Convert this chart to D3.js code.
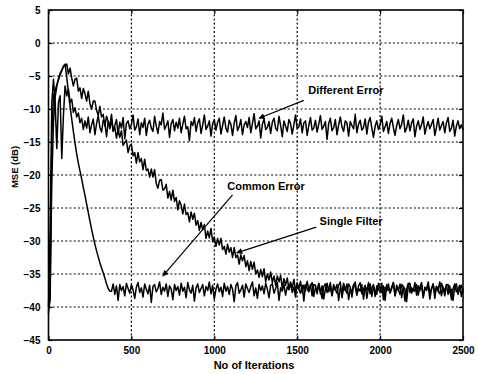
<!DOCTYPE html>
<html><head><meta charset="utf-8">
<script src="https://cdn.jsdelivr.net/npm/d3@7"></script>
<style>
html,body{margin:0;padding:0;background:#fff;}
svg{display:block;font-family:"Liberation Sans",Arial,sans-serif;}
</style></head>
<body><svg id="c" width="478" height="374"></svg>
<script>
// Sampling step of the curves (iterations)
const step = 10;
const xTicks = [0, 500, 1000, 1500, 2000, 2500];
const yTicks = [5, 0, -5, -10, -15, -20, -25, -30, -35, -40, -45];
const xLabel = "No of Iterations";
const yLabel = "MSE (dB)";

// "Different Error" MSE (dB), every 10 iterations from 0 to 2500
const differentError = [
-40,-28,-9,-5.5,-9,-16,-9,-8,-17.5,-11,-6.5,-8,-7,-9,-8.5,-10.5,-9.8,-11.2,-10.6,-12.1,-11.4,
-13.1,-11.8,-12.9,-11.2,-13.6,-12.4,-11.5,-13.9,-12.2,-11.0,
-12.8,-13.5,-11.7,-12.1,-14.2,-11.9,-12.6,-10.8,-13.3,-12.5,
-11.6,-13.8,-12.0,-12.9,-11.3,-14.5,-12.2,-11.8,-13.0,-12.4,
-10.9,-13.2,-12.7,-11.5,-13.9,-12.1,-12.8,-11.4,-14.0,-12.3,
-11.7,-12.9,-13.4,-11.1,-12.6,-13.7,-11.9,-12.4,-10.6,-13.1,
-12.5,-11.8,-14.3,-12.2,-11.6,-13.3,-12.0,-12.9,-11.4,-13.6,
-12.3,-11.1,-13.0,-12.7,-14.8,-11.9,-12.5,-11.3,-13.4,-12.1,
-11.5,-13.7,-12.4,-10.9,-13.1,-12.6,-11.8,-14.1,-12.2,-11.6,
-13.2,-12.0,-11.4,-13.8,-12.5,-11.2,-12.9,-13.5,-11.7,-12.3,
-14.0,-12.1,-11.0,-13.3,-12.7,-11.6,-13.9,-12.4,-11.9,-12.8,
-11.3,-13.6,-12.2,-10.7,-13.0,-12.6,-11.8,-14.4,-12.3,-11.5,
-13.1,-12.8,-11.9,-13.7,-12.0,-11.4,-12.9,-13.3,-11.1,-12.5,
-14.2,-11.8,-12.6,-13.4,-11.6,-12.2,-13.8,-12.4,-10.9,-13.0,
-12.7,-11.5,-13.6,-12.1,-11.8,-14.0,-12.5,-11.3,-13.2,-12.9,
-11.7,-13.5,-12.3,-11.0,-13.1,-12.6,-11.9,-14.6,-12.2,-11.4,
-13.3,-12.8,-11.6,-13.9,-12.4,-11.2,-12.7,-13.4,-11.8,-12.1,
-14.1,-11.9,-12.5,-13.0,-10.8,-13.6,-12.3,-11.7,-13.2,-12.8,
-11.5,-13.8,-12.0,-11.3,-12.9,-14.3,-12.6,-11.8,-13.1,-12.4,
-11.1,-13.4,-12.7,-11.9,-13.7,-12.2,-11.4,-12.8,-14.0,-12.5,
-11.6,-13.0,-12.3,-10.9,-13.5,-12.9,-11.7,-13.3,-12.1,-11.5,
-14.2,-12.6,-11.8,-13.1,-12.4,-11.2,-13.8,-12.7,-11.9,-13.0,
-12.3,-11.6,-14.0,-12.8,-11.4,-13.2,-12.5,-11.9,-13.6,-12.1,
-11.3,-13.4,-12.9,-11.7,-14.1,-12.6,-11.8,-13.0,-12.4,-13.2
];

// "Common Error" MSE (dB)
const commonError = [
-40.5,-39,-14,-8,-7.2,-6.3,-5.6,-4.8,-4.2,-3.5,-3.2,-5.2,-7.4,-9.6,-11.5,-13.4,-15.2,-16.8,-18.2,-19.4,
-20.6,-21.9,-23.1,-24.4,-25.7,-27.0,-28.2,-29.4,-30.5,-31.5,-32.4,-33.3,-34.1,-34.8,-35.6,-36.5,-37.2,-37.6,
-37.6,-36.5,-38.1,-36.8,-39.0,-36.6,-37.5,-36.9,-38.3,-36.4,
-37.2,-37.9,-36.6,-37.4,-38.7,-37.0,-36.3,-37.8,-37.1,-38.5,
-36.5,-37.3,-38.0,-36.7,-39.3,-36.9,-36.6,-37.7,-37.2,-36.2,
-38.1,-37.0,-37.6,-36.5,-38.4,-36.8,-37.3,-38.9,-36.6,-37.5,
-36.9,-38.2,-36.4,-37.6,-37.0,-38.6,-36.3,-37.4,-37.9,-36.7,
-39.1,-37.1,-36.5,-37.8,-37.2,-36.6,-38.3,-36.9,-37.5,-36.2,
-38.0,-36.7,-38.8,-37.3,-36.5,-37.7,-37.0,-38.4,-36.4,-37.6,
-36.9,-38.1,-36.6,-37.3,-39.2,-36.8,-36.3,-37.9,-37.4,-36.7,
-38.5,-36.5,-37.2,-37.8,-36.9,-36.2,-38.3,-37.1,-38.7,-36.6,
-37.5,-36.8,-38.0,-36.4,-37.3,-38.6,-36.7,-36.5,-37.9,-37.2,
-36.3,-39.0,-37.1,-37.6,-36.6,-38.2,-36.9,-37.4,-36.4,-37.8,
-37.0,-38.5,-36.5,-37.3,-37.9,-36.7,-39.1,-36.6,-37.2,-37.7,
-36.9,-36.3,-38.4,-37.1,-37.6,-36.5,-38.0,-36.8,-38.8,-37.3,
-36.4,-37.7,-37.0,-38.3,-36.6,-37.4,-37.9,-36.7,-36.2,-38.6,
-37.1,-37.5,-36.5,-38.9,-37.2,-37.8,-36.6,-37.0,-38.2,-36.8,
-36.3,-38.0,-37.3,-36.7,-38.7,-37.1,-36.5,-38.4,-36.9,-37.6,
-38.1,-36.4,-37.2,-37.8,-36.8,-39.0,-36.6,-37.4,-37.7,-37.0,
-36.3,-38.3,-37.1,-37.5,-36.5,-38.6,-36.9,-37.3,-39.2,-36.7,
-36.4,-37.9,-37.2,-37.6,-36.6,-38.2,-37.0,-36.3,-38.5,-37.1,
-37.5,-36.7,-38.8,-37.3,-36.5,-38.0,-36.9,-37.4,-36.2,-38.3,
-37.0,-37.6,-36.6,-38.1,-36.8,-38.9,-37.2,-36.5,-37.7,-37.3,
-36.7,-38.4,-37.1
];

// "Single Filter" MSE (dB)
const singleFilter = [
-41,-37,-21,-12,-8.2,-6.6,-5.4,-4.6,-4.1,-3.6,-3.4,
-3.2,-4.7,-3.8,-5.3,-6.5,-5.5,-5.3,-7.3,-6.8,-8.4,
-6.9,-7.7,-8.8,-7.3,-9.2,-10.0,-8.8,-8.8,-10.2,-11.0,
-9.6,-11.2,-10.8,-12.6,-11.1,-11.9,-13.0,-11.6,-13.4,-12.8,
-14.4,-13.1,-14.3,-13.3,-15.5,-15.1,-14.7,-16.6,-15.6,-15.3,
-17.1,-16.6,-18.2,-16.6,-18.0,-17.5,-19.2,-17.6,-19.3,-19.1,
-20.3,-19.1,-20.3,-19.2,-21.3,-22.0,-20.8,-20.7,-22.3,-22.1,
-21.4,-23.5,-22.5,-23.8,-22.3,-24.0,-23.4,-25.3,-23.9,-24.6,
-25.9,-24.4,-26.0,-25.7,-27.1,-25.6,-26.7,-25.8,-27.6,-26.9,
-28.4,-27.2,-28.3,-27.5,-29.6,-28.5,-29.5,-28.1,-30.1,-29.4,
-30.8,-29.6,-30.6,-29.6,-31.3,-30.8,-32.0,-30.5,-31.7,-31.0,
-32.5,-31.0,-32.5,-32.1,-33.5,-32.1,-33.0,-32.2,-33.9,-33.0,
-34.5,-33.1,-34.3,-33.2,-35.0,-34.4,-35.5,-34.3,-35.4,-34.2,
-36.2,-35.0,-35.9,-34.7,-36.3,-35.3,-36.7,-35.3,-36.2,-35.2,
-37.2,-35.7,-36.7,-35.6,-37.2,-36.2,-37.1,-35.8,-37.6,-36.3,
-37.3,-36.1,-37.8,-36.7,-37.6,-36.1,-37.4,-36.6,-38.3,-36.6,
-36.7,-38.0,-36.4,-37.5,-38.7,-36.9,-36.5,-37.8,-37.2,-36.3,
-38.2,-36.8,-37.4,-36.6,-39.0,-37.1,-37.7,-36.4,-37.3,-37.9,
-36.5,-37.0,-38.5,-36.7,-36.2,-38.1,-37.2,-37.6,-36.6,-38.8,
-36.9,-37.5,-36.3,-38.0,-37.1,-36.6,-38.4,-36.8,-37.3,-37.7,
-36.4,-38.9,-37.0,-37.6,-36.5,-37.9,-37.2,-36.3,-38.3,-36.7,
-37.4,-38.1,-36.6,-36.9,-39.1,-37.3,-36.4,-37.8,-37.1,-37.6,
-36.3,-38.2,-36.8,-37.5,-36.6,-38.6,-37.0,-37.3,-36.2,-37.9,
-37.2,-36.5,-38.7,-36.9,-37.6,-38.0,-36.4,-37.1,-38.3,-36.7,
-36.6,-37.8,-37.3,-39.0,-36.9,-36.5,-38.1,-37.2,-36.7,-37.9
];

// Annotations: label text, label anchor (data), arrow start (data), arrow tip (data)
const annotations = [
  {text:"Different Error", tx:1567, ty:-7.8, x1:1540, y1:-8.7, x2:1270, y2:-11.4},
  {text:"Common Error",    tx:1078, ty:-22.3, x1:1110, y1:-23.0, x2:690, y2:-35.3},
  {text:"Single Filter",   tx:1635, ty:-27.6, x1:1615, y1:-27.9, x2:1135, y2:-31.8}
];

const svg = d3.select("#c");
const L = 48.5, R = 463, T = 10, B = 340;
const x = d3.scaleLinear().domain([0, 2500]).range([L, R]);
const y = d3.scaleLinear().domain([-45, 5]).range([B, T]);

// grid
const g = svg.append("g");
g.selectAll("line.gx").data(xTicks.filter(v => v > 0 && v < 2500)).join("line")
  .attr("x1", d => x(d)).attr("x2", d => x(d)).attr("y1", T).attr("y2", B)
  .attr("stroke", "#000").attr("stroke-width", 1.2).attr("stroke-dasharray", "2,2.2");
g.selectAll("line.gy").data(yTicks.filter(v => v > -45 && v < 5)).join("line")
  .attr("x1", L).attr("x2", R).attr("y1", d => y(d)).attr("y2", d => y(d))
  .attr("stroke", "#000").attr("stroke-width", 1.2).attr("stroke-dasharray", "2,2.2");

// curves
const line = d3.line().x((d, i) => x(i * step)).y(d => y(d));
[differentError, singleFilter, commonError].forEach(s => {
  svg.append("path").datum(s).attr("d", line)
    .attr("fill", "none").attr("stroke", "#000").attr("stroke-width", 1.5)
    .attr("stroke-linejoin", "round");
});

// axes (MATLAB style: inward ticks on all sides)
const ax = svg.append("g").attr("font-size", 10.5).attr("font-weight", "bold");
const xb = ax.append("g").attr("transform", `translate(0,${B})`)
  .call(d3.axisBottom(x).tickValues(xTicks).tickSize(-4).tickPadding(7).tickFormat(d3.format("d")));
const xt = ax.append("g").attr("transform", `translate(0,${T})`)
  .call(d3.axisTop(x).tickValues(xTicks).tickSize(-4).tickFormat(""));
const yl = ax.append("g").attr("transform", `translate(${L},0)`)
  .call(d3.axisLeft(y).tickValues(yTicks).tickSize(-4).tickPadding(8).tickFormat(d3.format("d")));
const yr = ax.append("g").attr("transform", `translate(${R},0)`)
  .call(d3.axisRight(y).tickValues(yTicks).tickSize(-4).tickFormat(""));
[xb, xt, yl, yr].forEach(a => {
  a.select(".domain").remove();
  a.selectAll("line").attr("stroke", "#000").attr("stroke-width", 1.2);
  a.selectAll("text").attr("fill", "#000").attr("font-family", '"Liberation Sans",Arial,sans-serif');
});
svg.append("rect").attr("x", L).attr("y", T).attr("width", R - L).attr("height", B - T)
  .attr("fill", "none").attr("stroke", "#000").attr("stroke-width", 1.6);

// axis titles
svg.append("text").attr("x", 254).attr("y", 369).attr("text-anchor", "middle")
  .attr("font-size", 11).attr("font-weight", "bold").text(xLabel);
svg.append("text").attr("transform", "translate(18,167) rotate(-90)").attr("text-anchor", "middle")
  .attr("font-size", 9.5).attr("font-weight", "bold").text(yLabel);

// annotation arrows
svg.append("defs").append("marker").attr("id", "ah")
  .attr("viewBox", "0 0 10 10").attr("refX", 9).attr("refY", 5)
  .attr("markerWidth", 8).attr("markerHeight", 6).attr("markerUnits", "userSpaceOnUse")
  .attr("orient", "auto")
  .append("path").attr("d", "M0,0 L10,5 L0,10 z").attr("fill", "#000");
const an = svg.append("g");
annotations.forEach(a => {
  an.append("line").attr("x1", x(a.x1)).attr("y1", y(a.y1)).attr("x2", x(a.x2)).attr("y2", y(a.y2))
    .attr("stroke", "#000").attr("stroke-width", 1.2).attr("marker-end", "url(#ah)");
  an.append("text").attr("x", x(a.tx)).attr("y", y(a.ty)).attr("font-size", 11)
    .attr("font-weight", "bold").text(a.text);
});
</script></body></html>
